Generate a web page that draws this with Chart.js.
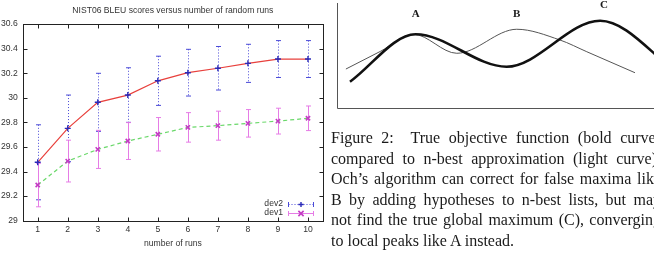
<!DOCTYPE html>
<html>
<head>
<meta charset="utf-8">
<script src="https://cdn.jsdelivr.net/npm/chart.js@4.4.0/dist/chart.umd.min.js"></script>
<style>
  html, body { margin: 0; padding: 0; background: #fff; width: 654px; height: 253px; overflow: hidden; }
  #runs { position: absolute; left: 0; top: 0; }
  #curves { position: absolute; left: 330px; top: 0; }
  #caption { position: absolute; left: 331px; top: 128.4px; width: 330px;
    font-family: 'Liberation Serif', serif; font-size: 16px; line-height: 20.5px; color: #1a1a1a; }
  #caption div { white-space: nowrap; text-align: justify; text-align-last: justify; }
  #caption div.last { text-align-last: left; }
</style>
</head>
<body>
<canvas id="runs" width="331" height="253"></canvas>
<canvas id="curves" width="340" height="115"></canvas>
<div id="caption">
  <div>Figure 2:&nbsp; True objective function (bold curve)</div>
  <div>compared to n-best approximation (light curve).</div>
  <div>Och’s algorithm can correct for false maxima like</div>
  <div>B by adding hypotheses to n-best lists, but may</div>
  <div>not find the true global maximum (C), converging</div>
  <div class="last">to local peaks like A instead.</div>
</div>
<script>
// left chart: BLEU vs number of runs
const runs = [1, 2, 3, 4, 5, 6, 7, 8, 9, 10];
const dev2 = [29.475, 29.751, 29.963, 30.022, 30.138, 30.204, 30.24, 30.28, 30.315, 30.315];
const dev2Err = [0.305, 0.271, 0.236, 0.222, 0.2, 0.19, 0.177, 0.155, 0.15, 0.15];
const dev1 = [29.29, 29.485, 29.58, 29.648, 29.703, 29.759, 29.773, 29.792, 29.81, 29.833];
const dev1Err = [0.177, 0.17, 0.155, 0.15, 0.136, 0.12, 0.118, 0.112, 0.105, 0.1];
const yTicks = [29, 29.2, 29.4, 29.6, 29.8, 30, 30.2, 30.4, 30.6];

// right diagram: true objective vs n-best approximation
const trueX = [4.1, 24.8, 53.5, 83, 99.7, 106];
const trueY = [25, 70.2, 39.3, 83.1, 53, 30];
const approxX = [2.8, 13.6, 24.1, 37.8, 56.7, 70.3, 78.8, 94];
const approxY = [37.1, 53.8, 70.2, 52.1, 75, 64.8, 53.6, 33.6];
const peakNames = ['A', 'B', 'C'];
const peakX = [24.8, 56.7, 84.2];
const peakY = [86.4, 86.4, 95.2];

const textColor = '#333';
const sans = "'Liberation Sans', Arial, sans-serif";
Chart.defaults.font.family = sans;
Chart.defaults.font.size = 8.6;
Chart.defaults.color = textColor;

const errorBars = {
  id: 'errorBars',
  beforeDatasetsDraw(chart) {
    const { ctx, scales: { x, y } } = chart;
    chart.data.datasets.forEach(ds => {
      ctx.save();
      ctx.strokeStyle = ds.errColor;
      ctx.lineWidth = 1;
      ctx.setLineDash(ds.errDash);
      ds.errors.forEach((e, j) => {
        const px = Math.round(x.getPixelForValue(runs[j])) + 0.5;
        const top = y.getPixelForValue(ds.data[j] + e);
        const bot = y.getPixelForValue(ds.data[j] - e);
        ctx.beginPath();
        ctx.moveTo(px, top); ctx.lineTo(px, bot);
        ctx.stroke();
        ctx.setLineDash([]);
        ctx.beginPath();
        ctx.moveTo(px - 2.5, top); ctx.lineTo(px + 2.5, top);
        ctx.moveTo(px - 2.5, bot); ctx.lineTo(px + 2.5, bot);
        ctx.stroke();
        ctx.setLineDash(ds.errDash);
      });
      ctx.restore();
    });
  }
};

const frame = {
  id: 'frame',
  afterDraw(chart) {
    const { ctx, chartArea: { left, right, top, bottom }, scales: { x, y } } = chart;
    ctx.save();
    ctx.strokeStyle = '#222';
    ctx.lineWidth = 1;
    const l = Math.round(left) + 0.5, r = Math.round(right) + 0.5;
    const t = Math.round(top) + 0.5, b = Math.round(bottom) + 0.5;
    ctx.strokeRect(l, t, r - l, b - t);
    ctx.beginPath();
    runs.forEach(v => {
      const px = Math.round(x.getPixelForValue(v)) + 0.5;
      ctx.moveTo(px, b); ctx.lineTo(px, b - 4);
      ctx.moveTo(px, t); ctx.lineTo(px, t + 4);
    });
    yTicks.forEach(v => {
      const py = Math.round(y.getPixelForValue(v)) + 0.5;
      ctx.moveTo(l, py); ctx.lineTo(l + 4, py);
      ctx.moveTo(r, py); ctx.lineTo(r - 4, py);
    });
    ctx.stroke();

    // title
    ctx.fillStyle = textColor;
    ctx.font = '8.6px ' + sans;
    ctx.textAlign = 'center';
    ctx.textBaseline = 'middle';
    ctx.fillText('NIST06 BLEU scores versus number of random runs', (left + right) / 2, 11);

    // legend, bottom right inside the plot
    const rows = [
      { ds: chart.data.datasets[0], cy: 204 },
      { ds: chart.data.datasets[1], cy: 212.7 }
    ];
    rows.forEach(({ ds, cy }) => {
      const yy = Math.round(cy) + 0.5;
      ctx.textAlign = 'right';
      ctx.fillStyle = textColor;
      ctx.fillText(ds.label, 283, cy);
      ctx.strokeStyle = ds.errColor;
      ctx.setLineDash(ds.errDash);
      ctx.beginPath();
      ctx.moveTo(288.5, yy); ctx.lineTo(313.5, yy);
      ctx.stroke();
      ctx.setLineDash([]);
      ctx.beginPath();
      ctx.moveTo(288.5, yy - 2.5); ctx.lineTo(288.5, yy + 2.5);
      ctx.moveTo(313.5, yy - 2.5); ctx.lineTo(313.5, yy + 2.5);
      ctx.stroke();
      ctx.strokeStyle = ds.pointBorderColor;
      ctx.lineWidth = ds.pointBorderWidth;
      ctx.beginPath();
      const cx = 301, s = 2.6;
      if (ds.pointStyle === 'cross') {
        ctx.moveTo(cx - s, yy); ctx.lineTo(cx + s, yy);
        ctx.moveTo(cx, yy - s); ctx.lineTo(cx, yy + s);
      } else {
        ctx.moveTo(cx - s, yy - s); ctx.lineTo(cx + s, yy + s);
        ctx.moveTo(cx - s, yy + s); ctx.lineTo(cx + s, yy - s);
      }
      ctx.stroke();
      ctx.lineWidth = 1;
    });
    ctx.restore();
  }
};

new Chart(document.getElementById('runs'), {
  type: 'line',
  data: {
    labels: runs,
    datasets: [{
      label: 'dev2',
      data: dev2,
      errors: dev2Err,
      errColor: '#4a4ad8',
      errDash: [1, 2],
      borderColor: '#e8403c',
      borderWidth: 1.2,
      pointStyle: 'cross',
      pointRadius: 3,
      pointBorderColor: '#2a2ab8',
      pointBorderWidth: 1.4,
      tension: 0
    }, {
      label: 'dev1',
      data: dev1,
      errors: dev1Err,
      errColor: '#e67ce6',
      errDash: [],
      borderColor: '#6ad86a',
      borderWidth: 1.2,
      borderDash: [4, 3],
      pointStyle: 'crossRot',
      pointRadius: 3,
      pointBorderColor: '#c43cc4',
      pointBorderWidth: 1.6,
      tension: 0
    }]
  },
  options: {
    responsive: false,
    animation: false,
    layout: { padding: { left: 0, right: 8, top: 24, bottom: 0 } },
    scales: {
      x: {
        type: 'linear',
        min: 0.5,
        max: 10.5,
        afterBuildTicks: s => { s.ticks = runs.map(v => ({ value: v })); },
        afterFit: s => { s.height = 32.3; },
        grid: { display: false, drawTicks: false },
        border: { display: false },
        ticks: { padding: 4, color: textColor, maxRotation: 0 },
        title: { display: true, text: 'number of runs', color: textColor, padding: { top: 0, bottom: 4.5 } }
      },
      y: {
        min: 29,
        max: 30.6,
        afterBuildTicks: s => { s.ticks = yTicks.map(v => ({ value: v })); },
        afterFit: s => { s.width = 22.7; },
        grid: { display: false, drawTicks: false },
        border: { display: false },
        ticks: { padding: 5, color: textColor, callback: v => String(+v.toFixed(1)) }
      }
    },
    plugins: { legend: { display: false }, tooltip: { enabled: false } }
  },
  plugins: [errorBars, frame]
});

const diagramAxes = {
  id: 'diagramAxes',
  afterDraw(chart) {
    const { ctx, chartArea: { left, right, top, bottom }, scales: { x, y } } = chart;
    ctx.save();
    ctx.strokeStyle = '#555';
    ctx.lineWidth = 1;
    ctx.beginPath();
    ctx.moveTo(Math.round(left) + 0.5, top);
    ctx.lineTo(Math.round(left) + 0.5, Math.round(bottom) + 0.5);
    ctx.lineTo(right + 20, Math.round(bottom) + 0.5);
    ctx.stroke();
    ctx.fillStyle = '#1a1a1a';
    ctx.font = "bold 11px 'Liberation Serif', serif";
    ctx.textAlign = 'center';
    ctx.textBaseline = 'alphabetic';
    peakNames.forEach((n, i) => {
      ctx.fillText(n, x.getPixelForValue(peakX[i]), y.getPixelForValue(peakY[i]));
    });
    ctx.restore();
  }
};

new Chart(document.getElementById('curves'), {
  type: 'line',
  data: {
    datasets: [{
      label: 'true objective',
      data: trueX.map((v, i) => ({ x: v, y: trueY[i] })),
      borderColor: '#111',
      borderWidth: 2.6,
      pointRadius: 0,
      cubicInterpolationMode: 'monotone'
    }, {
      label: 'n-best approximation',
      data: approxX.map((v, i) => ({ x: v, y: approxY[i] })),
      borderColor: '#555',
      borderWidth: 1,
      pointRadius: 0,
      cubicInterpolationMode: 'monotone'
    }]
  },
  options: {
    responsive: false,
    animation: false,
    layout: { padding: { left: 7, right: 16, top: 3, bottom: 7 } },
    scales: {
      x: { type: 'linear', min: 0, max: 100, display: false },
      y: { min: 0, max: 100, display: false }
    },
    plugins: { legend: { display: false }, tooltip: { enabled: false } }
  },
  plugins: [diagramAxes]
});
</script>
</body>
</html>
